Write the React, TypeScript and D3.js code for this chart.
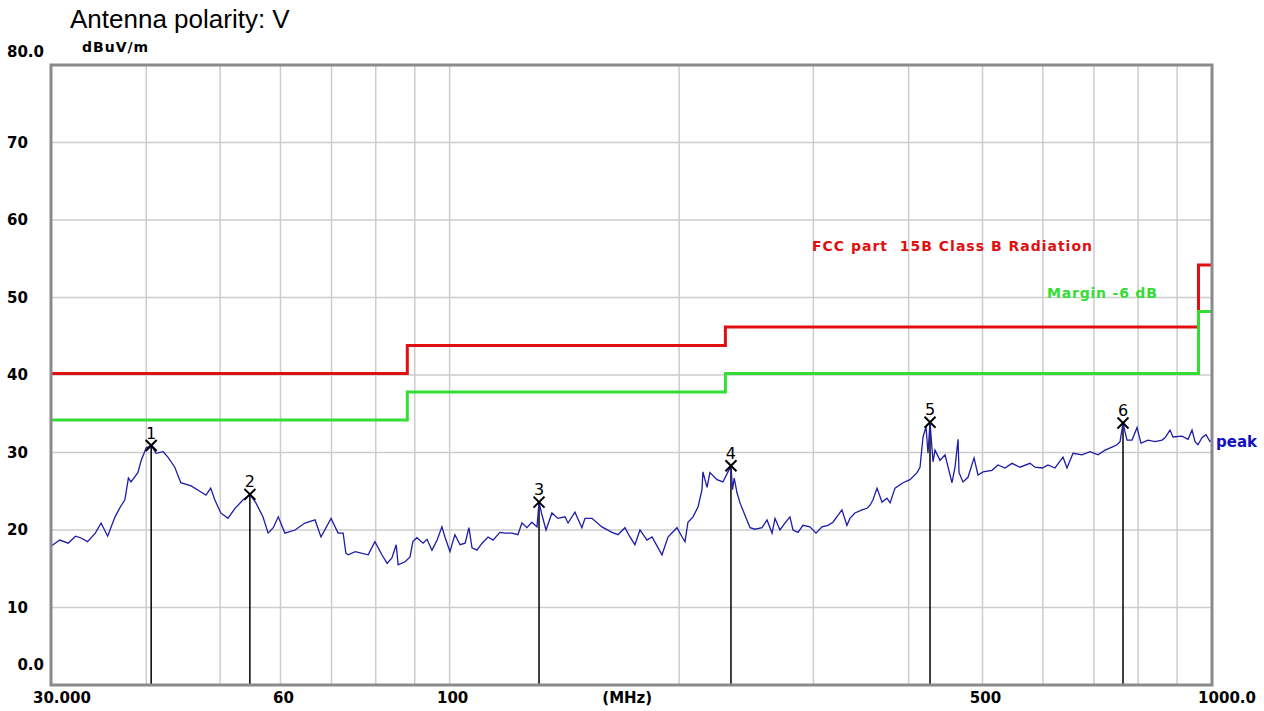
import React from 'react';
import * as d3 from 'd3';

// peak scan (MHz / dBuV/m)
const traceMHz = [
  30.0, 30.8, 31.6, 32.3, 32.8, 33.5, 34.3, 34.9, 35.6, 36.4, 37.0, 37.5, 37.9, 38.2, 39.0, 39.4, 40.0, 40.6,
  41.2, 42.1, 42.7, 43.6, 44.4, 45.8, 47.2, 47.9, 48.6, 49.2, 50.1, 51.2, 52.3, 53.6, 54.7, 55.7, 56.9, 57.8,
  58.7, 59.6, 60.8, 62.7, 64.6, 66.6, 67.8, 69.9, 71.4, 72.5, 73.1, 73.6, 75.2, 78.2, 79.8, 81.5, 82.8, 84.0,
  85.1, 85.6, 87.4, 88.7, 89.5, 90.6, 92.3, 93.4, 94.8, 96.3, 97.7, 98.6, 100.1, 101.6, 103.2, 104.8, 106.0,
  107.0, 108.6, 110.3, 112.3, 114.0, 116.4, 118.2, 120.7, 122.9, 124.4, 126.3, 128.2, 130.2, 131.0, 132.2,
  133.8, 136.2, 138.7, 141.7, 143.0, 146.0, 149.1, 150.5, 153.7, 158.4, 163.3, 166.3, 169.8, 172.4, 175.0,
  177.7, 181.5, 184.3, 187.7, 189.9, 193.4, 198.7, 201.8, 203.6, 205.4, 208.6, 211.8, 214.3, 214.9, 217.6,
  219.5, 224.2, 228.3, 231.8, 233.9, 235.0, 236.2, 238.2, 240.4, 244.0, 247.8, 251.5, 256.9, 260.8, 264.8,
  267.2, 271.2, 275.3, 279.5, 282.1, 286.4, 290.7, 296.9, 302.4, 307.9, 313.5, 318.3, 323.1, 327.0, 332.0,
  335.0, 340.1, 347.5, 352.8, 356.0, 359.2, 363.6, 369.1, 374.7, 378.2, 383.9, 393.3, 401.7, 410.3, 414.0,
  417.8, 421.6, 424.1, 426.7, 430.6, 433.2, 439.8, 446.5, 456.0, 460.2, 464.4, 465.8, 471.4, 478.6, 487.4,
  493.2, 500.8, 514.5, 524.0, 535.2, 546.6, 559.9, 577.1, 585.9, 599.2, 609.3, 622.3, 637.6, 645.3, 657.2,
  675.3, 691.8, 708.8, 723.9, 739.3, 750.6, 757.5, 764.3, 773.6, 785.4, 797.3, 807.0, 824.3, 841.9, 859.9,
  867.7, 880.9, 888.9, 913.4, 930.2, 941.4, 950.0, 958.6, 970.2, 982.0, 994.0, 1000.0,
];
const traceDb = [
  17.9, 18.7, 18.3, 19.2, 19.0, 18.5, 19.6, 20.9, 19.2, 21.7, 23.0, 23.9, 26.7, 26.2, 27.4, 29.0, 30.6, 30.9,
  29.9, 30.1, 29.4, 28.1, 26.1, 25.7, 24.9, 24.5, 25.4, 23.9, 22.2, 21.5, 22.8, 23.9, 24.6, 23.5, 21.7, 19.6,
  20.3, 21.7, 19.6, 20.0, 20.9, 21.3, 19.1, 21.5, 19.6, 19.6, 17.0, 16.8, 17.2, 16.8, 18.5, 16.8, 15.7, 16.4,
  18.1, 15.5, 15.9, 16.5, 18.5, 19.0, 18.3, 18.8, 17.4, 18.7, 20.4, 19.1, 17.2, 19.4, 18.1, 18.3, 20.3,
  17.7, 17.4, 18.3, 19.1, 18.7, 19.7, 19.6, 19.6, 19.4, 20.9, 20.3, 21.0, 20.4, 23.6, 21.9,
  20.0, 22.2, 21.5, 21.7, 20.9, 22.3, 20.3, 21.5, 21.5, 20.4, 19.7, 19.4, 20.3, 19.1, 18.1,
  20.0, 18.7, 19.1, 17.7, 16.8, 19.1, 20.3, 19.1, 18.5, 21.0, 21.7, 23.0, 25.2, 27.5, 25.5,
  27.4, 26.5, 26.2, 27.5, 28.3, 25.2, 26.7, 24.8, 23.5, 21.9, 20.3, 20.1, 20.3, 21.3, 19.6,
  21.5, 20.0, 20.9, 21.7, 20.0, 19.7, 20.6, 20.4, 19.6, 20.4, 20.6, 21.0, 21.9, 22.6, 20.6,
  21.5, 22.2, 22.6, 22.8, 23.2, 23.9, 25.4, 23.6, 24.1, 23.5, 25.4, 26.1, 26.5, 27.4, 28.1,
  32.0, 33.3, 29.9, 33.9, 28.8, 30.3, 29.0, 29.7, 26.1, 28.1, 31.7, 27.4, 26.2, 26.8, 29.3,
  27.1, 27.5, 27.7, 28.4, 28.0, 28.6, 28.1, 28.6, 28.1, 28.0, 28.4, 28.0, 29.4, 28.0, 29.9,
  29.7, 30.1, 29.7, 30.3, 30.7, 31.0, 31.4, 33.8, 31.6, 31.6, 33.2, 31.2, 31.6, 31.4, 31.6,
  31.9, 32.9, 32.0, 32.1, 31.7, 32.9, 31.4, 31.0, 31.9, 32.3, 31.4, 31.6,
];

// FCC part 15B class B limit steps and the -6 dB margin line
const limitEdgesMHz = [30, 88, 230, 960, 1000];
const limitDb = [40.2, 43.8, 46.2, 54.2];
const marginOffset = -6;

const markerMHz = [40.6, 54.7, 131.0, 233.9, 426.7, 764.3];
const markerDb = [30.9, 24.6, 23.6, 28.3, 33.9, 33.8];

const xGridMHz = [40, 50, 60, 70, 80, 90, 100, 200, 300, 400, 500, 600, 700, 800, 900];
const yGridDb = [10, 20, 30, 40, 50, 60, 70];
const xTickValues = [30, 60, 100, 500, 1000];
const xTickText = ['30.000', '60', '100', '500', '1000.0'];
const yTickValues = [80, 70, 60, 50, 40, 30, 20, 10, 0];
const yTickText = ['80.0', '70', '60', '50', '40', '30', '20', '10', '0.0'];

const W = 1264;
const H = 711;
const left = 51, right = 1212, top = 65, bottom = 685;
const labelFont = '"DejaVu Sans", sans-serif';

export default function App() {
  const x = d3.scaleLog().domain([30, 1000]).range([left, right]);
  const y = d3.scaleLinear().domain([0, 80]).range([bottom, top]);

  const trace = traceMHz.map((f, i) => [f, traceDb[i]] as [number, number]);
  const tracePath = d3.line<[number, number]>()
    .x(d => x(d[0]))
    .y(d => y(d[1]))(trace);

  const stepLine = d3.line<[number, number]>()
    .x(d => x(d[0]))
    .y(d => y(d[1]))
    .curve(d3.curveStepAfter);
  const limitPts = limitEdgesMHz.map((f, i) => [f, limitDb[Math.min(i, limitDb.length - 1)]] as [number, number]);
  const marginPts = limitPts.map(d => [d[0], d[1] + marginOffset] as [number, number]);

  return (
    <svg width={W} height={H} style={{ position: 'absolute', left: 0, top: 0, background: '#fff' }}>
      <text x={70} y={28} fontFamily='"Liberation Sans", Arial, sans-serif' fontSize={26} fill='#000'>
        Antenna polarity: V
      </text>

      {/* grid */}
      {xGridMHz.map(f => (
        <line key={'gx' + f} x1={x(f)} x2={x(f)} y1={top} y2={bottom} stroke='#cdcdcd' strokeWidth={1.5} />
      ))}
      {yGridDb.map(v => (
        <line key={'gy' + v} x1={left} x2={right} y1={y(v)} y2={y(v)} stroke='#cdcdcd' strokeWidth={1.5} />
      ))}

      {/* limit + margin */}
      <path d={stepLine(limitPts) ?? ''} fill='none' stroke='#e01010' strokeWidth={3} />
      <path d={stepLine(marginPts) ?? ''} fill='none' stroke='#33dd33' strokeWidth={3} />

      {/* marker lines */}
      {markerMHz.map((f, i) => (
        <line key={'ml' + i} x1={x(f)} x2={x(f)} y1={y(markerDb[i])} y2={bottom} stroke='#000' strokeWidth={1.5} />
      ))}

      <path d={tracePath ?? ''} fill='none' stroke='#1c1ca8' strokeWidth={1.3} />

      {/* markers */}
      {markerMHz.map((f, i) => {
        const cx = x(f), cy = y(markerDb[i]);
        return (
          <g key={'mk' + i}>
            <line x1={cx - 5.5} x2={cx + 5.5} y1={cy - 5.5} y2={cy + 5.5} stroke='#000' strokeWidth={2} />
            <line x1={cx - 5.5} x2={cx + 5.5} y1={cy + 5.5} y2={cy - 5.5} stroke='#000' strokeWidth={2} />
            <text x={cx} y={cy - 7} textAnchor='middle' fontFamily={labelFont} fontSize={16} fill='#000'>
              {i + 1}
            </text>
          </g>
        );
      })}

      {/* frame */}
      <rect x={left} y={top} width={right - left} height={bottom - top} fill='none' stroke='#8a8a8a' strokeWidth={3} />

      {/* y labels */}
      {yTickValues.map((v, i) => {
        const txt = yTickText[i];
        const decimal = txt.includes('.');
        let ty = y(v) + 5;
        if (v === 80) ty = 57;
        if (v === 0) ty = 670;
        return (
          <text key={'yt' + v} x={decimal ? 44 : 7} y={ty} textAnchor={decimal ? 'end' : 'start'}
            fontFamily={labelFont} fontWeight='bold' fontSize={15} fill='#000'>
            {txt}
          </text>
        );
      })}
      <text x={82} y={52} fontFamily={labelFont} fontWeight='bold' fontSize={14} fill='#000' letterSpacing={1}>
        dBuV/m
      </text>

      {/* x labels */}
      {xTickValues.map((f, i) => {
        const anchor = i === 0 ? 'start' : i === xTickValues.length - 1 ? 'end' : 'middle';
        const tx = i === 0 ? 33 : i === xTickValues.length - 1 ? 1256 : x(f) + 3;
        return (
          <text key={'xt' + f} x={tx} y={703} textAnchor={anchor}
            fontFamily={labelFont} fontWeight='bold' fontSize={15} fill='#000'>
            {xTickText[i]}
          </text>
        );
      })}
      <text x={x(171)} y={703} textAnchor='middle' fontFamily={labelFont} fontWeight='bold' fontSize={15} fill='#000'>
        (MHz)
      </text>

      {/* series labels */}
      <text x={812} y={251} fontFamily={labelFont} fontWeight='bold' fontSize={14} fill='#e01010'
        letterSpacing={1} xmlSpace='preserve'>
        FCC part  15B Class B Radiation
      </text>
      <text x={1047} y={298} fontFamily={labelFont} fontWeight='bold' fontSize={14} fill='#33dd33' letterSpacing={0.8}>
        Margin -6 dB
      </text>
      <text x={1216} y={447} fontFamily={labelFont} fontWeight='bold' fontSize={15} fill='#1010c0'>
        peak
      </text>
    </svg>
  );
}
